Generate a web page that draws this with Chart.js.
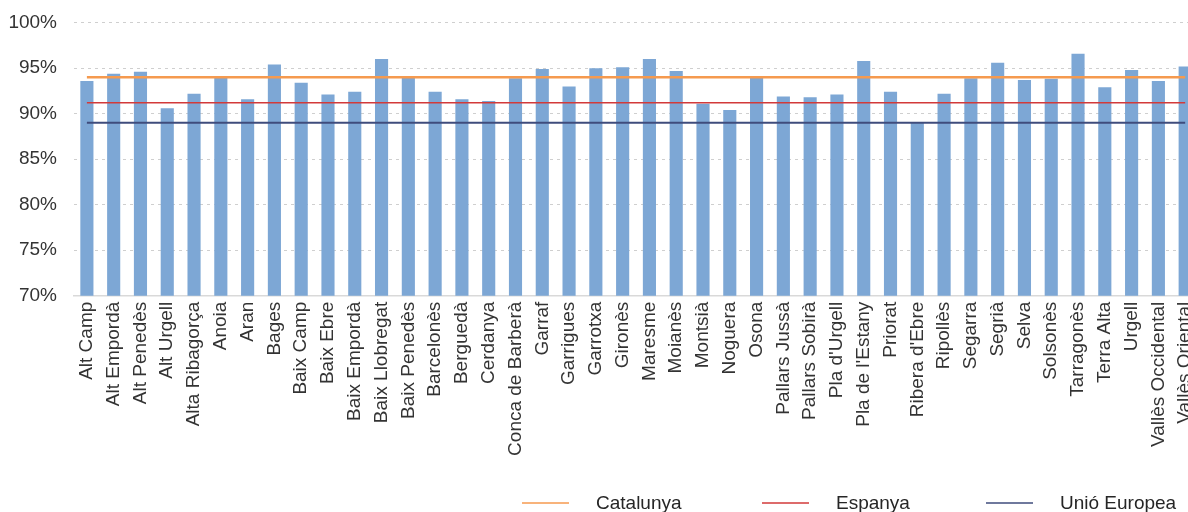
<!DOCTYPE html>
<html>
<head>
<meta charset="utf-8">
<script src="https://cdn.jsdelivr.net/npm/chart.js@4"></script>
<style>
  html, body { margin: 0; padding: 0; background: #fff; overflow: hidden; }
  #wrap { position: absolute; left: 0; top: 0; width: 1214px; height: 512px; }
  #legend { position: absolute; left: 0; top: 0; width: 1188px; height: 512px; pointer-events: none;
            font-family: "Liberation Sans", Arial, sans-serif; font-size: 19px; color: #262626; }
  .item { position: absolute; top: 491px; height: 24px; display: flex; align-items: center; }
  .swatch { width: 47px; height: 2px; margin-right: 27px; }
</style>
</head>
<body>
<div id="wrap"><canvas id="myChart"></canvas></div>
<div id="legend"></div>
<script>
// Comarques (x axis)
const comarques = [
  "Alt Camp", "Alt Empordà", "Alt Penedès", "Alt Urgell", "Alta Ribagorça", "Anoia", "Aran",
  "Bages", "Baix Camp", "Baix Ebre", "Baix Empordà", "Baix Llobregat", "Baix Penedès",
  "Barcelonès", "Berguedà", "Cerdanya", "Conca de Barberà", "Garraf", "Garrigues", "Garrotxa",
  "Gironès", "Maresme", "Moianès", "Montsià", "Noguera", "Osona", "Pallars Jussà",
  "Pallars Sobirà", "Pla d'Urgell", "Pla de l'Estany", "Priorat", "Ribera d'Ebre", "Ripollès",
  "Segarra", "Segrià", "Selva", "Solsonès", "Tarragonès", "Terra Alta", "Urgell",
  "Vallès Occidental", "Vallès Oriental"
];

// Percentage per comarca
const valors = [
  93.6, 94.4, 94.6, 90.6, 92.2, 94.1, 91.6,
  95.4, 93.4, 92.1, 92.4, 96.0, 94.1,
  92.4, 91.6, 91.4, 93.9, 94.9, 93.0, 95.0,
  95.1, 96.0, 94.7, 91.1, 90.4, 94.0, 91.9,
  91.8, 92.1, 95.8, 92.4, 89.0, 92.2,
  93.9, 95.6, 93.7, 93.85, 96.6, 92.9, 94.8,
  93.6, 95.2
];

// Reference lines
const refLabels = ["Catalunya", "Espanya", "Unió Europea"];
const refValues = [94.0, 91.2, 89.0];
const refColors = ["#f59a4f", "#d23a3a", "#3f4c7c"];
const refWidths = [2.5, 1.5, 2];

// Y axis ticks
const yTicks = [70, 75, 80, 85, 90, 95, 100];

const fontFamily = '"Liberation Sans", Arial, sans-serif';

const datasets = [
  {
    type: "bar",
    label: "Comarques",
    data: valors,
    backgroundColor: "#7da7d5",
    barPercentage: 0.49,
    categoryPercentage: 1,
    order: 10,
  },
];

refLabels.forEach((label, i) => {
  datasets.push({
    type: "line",
    label: label,
    // line from first to last comarca
    data: [
      { x: comarques[0], y: refValues[i] },
      { x: comarques[comarques.length - 1], y: refValues[i] },
    ],
    borderColor: refColors[i],
    borderWidth: refWidths[i],
    pointRadius: 0,
    fill: false,
    order: i + 1,
  });
});

const ctx = document.getElementById("myChart").getContext("2d");
const chart = new Chart(ctx, {
  data: {
    labels: comarques,
    datasets: datasets,
  },
  options: {
    responsive: true,
    maintainAspectRatio: false,
    animation: false,
    layout: {
      padding: { top: 22.7, right: 2, bottom: 0, left: 0 },
    },
    plugins: {
      legend: { display: false },
      tooltip: { enabled: false },
    },
    scales: {
      x: {
        offset: true,
        grid: { display: false, drawTicks: false },
        border: { display: true, color: "#d9d9d9", width: 1.5 },
        ticks: {
          autoSkip: false,
          maxRotation: 90,
          minRotation: 90,
          padding: 6,
          color: "#333333",
          font: { family: fontFamily, size: 19 },
        },
        afterFit: (scale) => {
          scale.height = 216.3;
        },
      },
      y: {
        min: 70,
        max: 100,
        afterBuildTicks: (scale) => {
          scale.ticks = yTicks.map((v) => ({ value: v }));
        },
        grid: { color: "#cfcfcf", lineWidth: 1, drawTicks: false },
        border: { display: false, dash: [3, 4] },
        ticks: {
          padding: 16.5,
          color: "#333333",
          font: { family: fontFamily, size: 19 },
          callback: (v) => v + "%",
        },
        afterFit: (scale) => {
          scale.width = 73.5;
          // the top is set by layout padding only
          scale.paddingTop = 0;
          scale.paddingBottom = 0;
        },
      },
    },
  },
});

// Legend, drawn as html text under the chart
const legendBox = document.getElementById("legend");
const legendLeft = [522, 762, 986];
refLabels.forEach((label, i) => {
  const item = document.createElement("div");
  item.className = "item";
  item.style.left = legendLeft[i] + "px";
  item.innerHTML = `<span class="swatch" style="background:${refColors[i]};opacity:0.75"></span><span>${label}</span>`;
  legendBox.appendChild(item);
});
</script>
</body>
</html>
